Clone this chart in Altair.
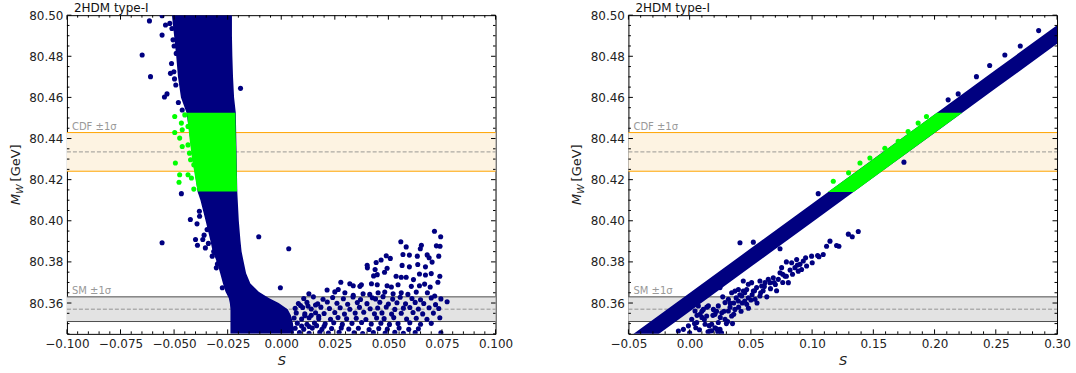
import altair as alt
import pandas as pd

# ---------------- data ----------------
Y_DOMAIN = [80.345, 80.50]
LEFT_X_DOMAIN = [-0.100, 0.100]
RIGHT_X_DOMAIN = [-0.05, 0.30]

y_major = [80.36, 80.38, 80.40, 80.42, 80.44, 80.46, 80.48, 80.50]
y_minor = [80.345, 80.350, 80.355, 80.365, 80.370, 80.375, 80.385, 80.390, 80.395,
           80.405, 80.410, 80.415, 80.425, 80.430, 80.435, 80.445, 80.450, 80.455,
           80.465, 80.470, 80.475, 80.485, 80.490, 80.495]
left_x_major = [-0.100, -0.075, -0.050, -0.025, 0.000, 0.025, 0.050, 0.075, 0.100]
left_x_minor = [-0.095, -0.090, -0.085, -0.080, -0.070, -0.065, -0.060, -0.055,
                -0.045, -0.040, -0.035, -0.030, -0.020, -0.015, -0.010, -0.005,
                0.005, 0.010, 0.015, 0.020, 0.030, 0.035, 0.040, 0.045,
                0.055, 0.060, 0.065, 0.070, 0.080, 0.085, 0.090, 0.095]
right_x_major = [-0.05, 0.00, 0.05, 0.10, 0.15, 0.20, 0.25, 0.30]
right_x_minor = [-0.04, -0.03, -0.02, -0.01, 0.01, 0.02, 0.03, 0.04, 0.06, 0.07, 0.08, 0.09,
                 0.11, 0.12, 0.13, 0.14, 0.16, 0.17, 0.18, 0.19, 0.21, 0.22, 0.23, 0.24,
                 0.26, 0.27, 0.28, 0.29]

cdf_center, cdf_sigma = 80.4335, 0.0094
sm_center, sm_sigma = 80.357, 0.006

# left panel: dense blue region (for each M_W, S from lo to hi)
left_blue_m = [80.345, 80.350, 80.354, 80.357, 80.360, 80.3625, 80.3655, 80.3695, 80.3745,
               80.380, 80.385, 80.390, 80.400, 80.410, 80.414, 80.4525, 80.460, 80.470,
               80.480, 80.490, 80.500]
left_blue_lo = [-0.0237, -0.0237, -0.0237, -0.0237, -0.0240, -0.0245, -0.0260, -0.0272, -0.0285,
                -0.0300, -0.0320, -0.0330, -0.0353, -0.0377, -0.0390, -0.0442, -0.0468, -0.0482,
                -0.0490, -0.0500, -0.0510]
left_blue_hi = [0.0060, 0.0055, 0.0045, 0.0030, -0.0012, -0.0058, -0.0105, -0.0144, -0.0164,
                -0.0175, -0.0185, -0.0190, -0.0198, -0.0203, -0.0205, -0.0212, -0.0220, -0.0225,
                -0.0228, -0.0230, -0.0230]
# left panel: dense green region
left_green_m = [80.4142, 80.420, 80.430, 80.440, 80.4525]
left_green_lo = [-0.0390, -0.0400, -0.0416, -0.0428, -0.0440]
left_green_hi = [-0.0206, -0.0207, -0.0209, -0.0212, -0.0214]

# left panel: isolated blue points
left_pts_s = [
    -0.0556, -0.0615, -0.0649, -0.0610, -0.0545, -0.0533, -0.0556, -0.0540, -0.0517, -0.0501,
    -0.0490, -0.0462, -0.0190, -0.0520, -0.0510, -0.0505, -0.0500, -0.0512, -0.0498, -0.0492,
    -0.0480,
    -0.0466, -0.0424, -0.0393, -0.0381, -0.0382, -0.0400, -0.0391, -0.0366, -0.0556, -0.0354,
    -0.0346, -0.0322, -0.0303, -0.0291, -0.0275, -0.0259, -0.0360, -0.0340, -0.0315, -0.0298,
    -0.0105, 0.0035, -0.0004,
    0.0715, 0.0744, 0.0558, 0.0583, 0.0654, 0.0649, 0.0724, 0.0741, 0.0490, 0.0509,
    0.0568, 0.0598, 0.0635, 0.0681, 0.0690, 0.0735, 0.0466, 0.0443, 0.0401, 0.0402,
    0.0438, 0.0564, 0.0598, 0.0637, 0.0704, 0.0673, 0.0494, 0.0482, 0.0448, 0.0431,
    0.0536, 0.0560, 0.0583, 0.0617, 0.0645, 0.0673, 0.0700, 0.0740, 0.0278, 0.0320,
    0.0336, 0.0374, 0.0367, 0.0421, 0.0448, 0.0494, 0.0514, 0.0545, 0.0607, 0.0645,
    0.0669, 0.0695, 0.0731, 0.0214, 0.0250, 0.0266, 0.0129, 0.0297, 0.0336, 0.0382,
    0.0413, 0.0452, 0.0483, 0.0522, 0.0560, 0.0591, 0.0630, 0.0682, 0.0716, 0.0774,
    0.0105, 0.0150, 0.0195, 0.0240, 0.0290, 0.0335, 0.0370, 0.0425, 0.0440, 0.0475,
    0.0520, 0.0555, 0.0610, 0.0650, 0.0700, 0.0745,
    0.0080, 0.0120, 0.0170, 0.0215, 0.0260, 0.0310, 0.0355, 0.0400, 0.0460, 0.0500,
    0.0540, 0.0580, 0.0625, 0.0665, 0.0720,
    0.0065, 0.0100, 0.0140, 0.0185, 0.0225, 0.0275, 0.0320, 0.0365, 0.0415, 0.0450,
    0.0490, 0.0530, 0.0570, 0.0600, 0.0640, 0.0690, 0.0735,
    0.0070, 0.0110, 0.0160, 0.0200, 0.0250, 0.0295, 0.0345, 0.0385, 0.0435, 0.0470,
    0.0515, 0.0560, 0.0615, 0.0660, 0.0710,
    0.0060, 0.0095, 0.0130, 0.0175, 0.0230, 0.0265, 0.0305, 0.0350, 0.0395, 0.0445,
    0.0480, 0.0525, 0.0585, 0.0630, 0.0680, 0.0740,
    0.0075, 0.0120, 0.0155, 0.0205, 0.0245, 0.0285, 0.0330, 0.0375, 0.0420, 0.0465,
    0.0505, 0.0545, 0.0600, 0.0650, 0.0700,
    0.0065, 0.0105, 0.0145, 0.0190, 0.0235, 0.0280, 0.0315, 0.0360, 0.0410, 0.0455,
    0.0495, 0.0550, 0.0595, 0.0640,
    0.0085, 0.0130, 0.0180, 0.0220, 0.0270, 0.0340, 0.0380, 0.0430, 0.0485, 0.0530,
    0.0570, 0.0625, 0.0745,
    0.0090, 0.0125, 0.0160, 0.0110, 0.0140, 0.0175, 0.0095, 0.0130, 0.0165, 0.0200]
left_pts_m = [
    80.4997, 80.4972, 80.4806, 80.4701, 80.4602, 80.4617, 80.4903, 80.4952, 80.4717, 80.4725,
    80.4814, 80.4539, 80.4644, 80.4960, 80.4935, 80.4880, 80.4850, 80.4765, 80.4690, 80.4660,
    80.4575,
    80.4132, 80.4006, 80.3985, 80.4022, 80.4046, 80.3909, 80.3881, 80.3909, 80.3893, 80.3868,
    80.3957, 80.3828, 80.3771, 80.3800, 80.3674, 80.3715, 80.3930, 80.3890, 80.3850, 80.3790,
    80.3922, 80.3864, 80.3674,
    80.3949, 80.3922, 80.3898, 80.3873, 80.3881, 80.3864, 80.3878, 80.3876, 80.3830, 80.3817,
    80.3836, 80.3833, 80.3828, 80.3834, 80.3820, 80.3828, 80.3809, 80.3797, 80.3784, 80.3771,
    80.3763, 80.3783, 80.3776, 80.3787, 80.3799, 80.3776, 80.3769, 80.3750, 80.3738, 80.3732,
    80.3730, 80.3725, 80.3725, 80.3714, 80.3741, 80.3736, 80.3743, 80.3730, 80.3701, 80.3694,
    80.3684, 80.3689, 80.3681, 80.3694, 80.3689, 80.3684, 80.3678, 80.3689, 80.3681, 80.3684,
    80.3692, 80.3678, 80.3701, 80.3663, 80.3654, 80.3666, 80.3645, 80.3650, 80.3637, 80.3645,
    80.3642, 80.3650, 80.3653, 80.3645, 80.3650, 80.3642, 80.3653, 80.3650, 80.3634, 80.3606,
    80.3622, 80.3630, 80.3618, 80.3627, 80.3621, 80.3629, 80.3617, 80.3626, 80.3620, 80.3631,
    80.3619, 80.3628, 80.3622, 80.3616, 80.3625, 80.3620,
    80.3598, 80.3603, 80.3596, 80.3605, 80.3599, 80.3594, 80.3602, 80.3597, 80.3604, 80.3595,
    80.3601, 80.3596, 80.3603, 80.3598, 80.3592,
    80.3574, 80.3578, 80.3571, 80.3580, 80.3573, 80.3577, 80.3570, 80.3579, 80.3572, 80.3576,
    80.3581, 80.3569, 80.3575, 80.3578, 80.3571, 80.3577, 80.3573,
    80.3552, 80.3547, 80.3553, 80.3549, 80.3554, 80.3546, 80.3551, 80.3555, 80.3548, 80.3552,
    80.3546, 80.3550, 80.3554, 80.3547, 80.3551,
    80.3527, 80.3522, 80.3528, 80.3524, 80.3521, 80.3529, 80.3523, 80.3526, 80.3520, 80.3527,
    80.3524, 80.3529, 80.3522, 80.3526, 80.3521, 80.3528,
    80.3502, 80.3497, 80.3503, 80.3499, 80.3504, 80.3496, 80.3501, 80.3505, 80.3498, 80.3502,
    80.3496, 80.3500, 80.3504, 80.3497, 80.3501,
    80.3477, 80.3473, 80.3478, 80.3472, 80.3476, 80.3479, 80.3474, 80.3477, 80.3471, 80.3476,
    80.3473, 80.3478, 80.3472, 80.3475,
    80.3456, 80.3453, 80.3457, 80.3454, 80.3458, 80.3455, 80.3452, 80.3456, 80.3454, 80.3457,
    80.3453, 80.3456, 80.3455,
    80.3588, 80.3585, 80.3590, 80.3538, 80.3540, 80.3536, 80.3488, 80.3486, 80.3490, 80.3487]

# left panel: isolated green points
left_green_pts_s = [-0.0497, -0.0450, -0.0466, -0.0462, -0.0497, -0.0474, -0.0435, -0.0462,
                    -0.0435, -0.0428, -0.0423, -0.0494, -0.0408, -0.0474, -0.0435, -0.0419,
                    -0.0477, -0.0408]
left_green_pts_m = [80.4507, 80.4515, 80.4475, 80.4443, 80.4429, 80.4402, 80.4459, 80.4361,
                    80.4369, 80.4329, 80.4297, 80.4281, 80.4272, 80.4224, 80.4224, 80.4208,
                    80.4187, 80.4154]

# right panel: dense blue band (for each S, M_W from lo to hi)
right_blue_s = [-0.05, 0.00, 0.05, 0.10, 0.15, 0.20, 0.25, 0.30]
right_blue_lo = [80.3342, 80.3559, 80.3776, 80.3993, 80.4210, 80.4427, 80.4644, 80.4861]
right_blue_hi = [80.3432, 80.3649, 80.3866, 80.4083, 80.4300, 80.4517, 80.4734, 80.4951]
# right panel: dense green part of the band
right_green_s = [0.1129, 0.1339, 0.2018, 0.2226]
right_green_lo = [80.4140, 80.4140, 80.4435, 80.4525]
right_green_hi = [80.4140, 80.4230, 80.4525, 80.4525]

# right panel: isolated blue points
right_pts_s = [
    0.2574, 0.2342, 0.2111, 0.2193, 0.0411, 0.0520, 0.1050,
    0.1377, 0.1296, 0.1328, 0.1146, 0.1118, 0.1200, 0.1219, 0.1091, 0.1045, 0.1056,
    0.0996, 0.0947, 0.0928, 0.0901, 0.1001, 0.0887, 0.0738, 0.0874, 0.0833, 0.0860,
    0.0914, 0.0955, 0.0751, 0.0738, 0.0778, 0.0806, 0.0724, 0.0683, 0.0642, 0.0656,
    0.0615, 0.0574, 0.0588, 0.0547, 0.0506, 0.0479, 0.0520, 0.0466, 0.0438, 0.0398,
    0.0370, 0.0343, 0.0425, 0.0479, 0.0534, 0.0574, 0.0466, 0.0398, 0.0316, 0.0289,
    0.0248, 0.0234, 0.0194, 0.0153, 0.0112, 0.0071, 0.0044, 0.0085, 0.0139, 0.0207,
    0.0262, 0.0316, 0.0370, 0.0343, 0.0289, 0.0234, 0.0180, 0.0126, 0.0058, 0.0017,
    -0.0010, -0.0051, 0.0207, 0.0248, 0.0166, -0.0092, 0.0438, 0.0410, 0.0450, 0.0510,
    0.0360, 0.0270, 0.0100, 0.0050, 0.0150, 0.0300, 0.0330, 0.0220, 0.0600, 0.0700,
    0.0760, 0.0820, 0.0790,
    -0.0300, -0.0250, -0.0200, -0.0150, 0.1750, 0.2450, 0.2700, 0.2850, 0.1600,
    0.0000, 0.0040, 0.0080, 0.0120, 0.0160, 0.0190, 0.0220, 0.0250, 0.0280, 0.0310,
    0.0330, 0.0360, 0.0380, 0.0400, 0.0430, 0.0450, 0.0480, 0.0500, 0.0530, 0.0550,
    0.0580, 0.0610, 0.0630, 0.0660, 0.0690, 0.0710, 0.0760, 0.0790, 0.0840, 0.0880,
    0.0100, 0.0140, 0.0060, 0.0260, 0.0350, 0.0180, 0.0230, 0.0420]
right_pts_m = [
    80.4806, 80.4701, 80.4588, 80.4617, 80.3893, 80.3896, 80.4132,
    80.3948, 80.3935, 80.3922, 80.3901, 80.3876, 80.3880, 80.3876, 80.3836, 80.3831, 80.3825,
    80.3828, 80.3820, 80.3804, 80.3788, 80.3796, 80.3755, 80.3864, 80.3812, 80.3796, 80.3772,
    80.3763, 80.3780, 80.3772, 80.3747, 80.3731, 80.3699, 80.3715, 80.3723, 80.3715, 80.3699,
    80.3699, 80.3707, 80.3683, 80.3675, 80.3699, 80.3691, 80.3658, 80.3666, 80.3658, 80.3666,
    80.3658, 80.3650, 80.3634, 80.3626, 80.3618, 80.3634, 80.3594, 80.3610, 80.3618, 80.3602,
    80.3675, 80.3586, 80.3569, 80.3586, 80.3569, 80.3586, 80.3561, 80.3545, 80.3537, 80.3545,
    80.3553, 80.3561, 80.3569, 80.3537, 80.3521, 80.3505, 80.3497, 80.3497, 80.3505, 80.3521,
    80.3489, 80.3472, 80.3480, 80.3472, 80.3464, 80.3464, 80.3707, 80.3640, 80.3610, 80.3640,
    80.3600, 80.3630, 80.3530, 80.3480, 80.3460, 80.3500, 80.3580, 80.3560, 80.3660, 80.3690,
    80.3740, 80.3760, 80.3800,
    80.3480, 80.3505, 80.3525, 80.3550, 80.4285, 80.4755, 80.4850, 80.4925, 80.4280,
    80.3455, 80.3500, 80.3470, 80.3520, 80.3490, 80.3540, 80.3475, 80.3530, 80.3560, 80.3510,
    80.3600, 80.3545, 80.3625, 80.3580, 80.3600, 80.3650, 80.3575, 80.3615, 80.3660, 80.3600,
    80.3650, 80.3680, 80.3630, 80.3670, 80.3700, 80.3660, 80.3700, 80.3730, 80.3740, 80.3785,
    80.3560, 80.3580, 80.3540, 80.3455, 80.3500, 80.3465, 80.3460, 80.3560]

# right panel: isolated green points
right_green_pts_s = [0.1173, 0.1391, 0.1298, 0.1472, 0.1594, 0.1703, 0.1784, 0.1866, 0.1934]
right_green_pts_m = [80.4192, 80.4281, 80.4233, 80.4305, 80.4353, 80.4386, 80.4434, 80.4475, 80.4507]

# ---------------- chart ----------------
W, H = 429, 319
BLUE = "#000080"
GREEN = "#00ff00"
FONT = "DejaVu Sans"
MAJ, MIN = 4.5, 2.5
DOT = 26


def panel(xdom, xmajor, xminor, xfmt, area_blue, area_green, pts, gpts, horizontal):
    xs = alt.Scale(domain=xdom, nice=False, zero=False)
    ys = alt.Scale(domain=Y_DOMAIN, nice=False, zero=False)
    xaxis = alt.Axis(values=xmajor, format=xfmt, title="S", ticks=False, domain=False,
                     grid=False, labelFlush=False, labelOverlap=False, labelPadding=5,
                     labelFont=FONT, labelFontSize=12, labelColor="#222222",
                     titleFont=FONT, titleFontStyle="italic", titleFontWeight="normal",
                     titleFontSize=13, titleColor="#222222",
                     titleY=31, titleBaseline="alphabetic")
    yaxis = alt.Axis(values=y_major, format=".2f", title=None, ticks=False, domain=False,
                     grid=False, labelFlush=False, labelOverlap=False, labelPadding=4,
                     labelFont=FONT, labelFontSize=12, labelColor="#222222")

    def X(f):
        return alt.X(f, type="quantitative", scale=xs, axis=xaxis)

    def Y(f):
        return alt.Y(f, type="quantitative", scale=ys, axis=yaxis)

    bands = pd.DataFrame({
        "lo": [cdf_center - cdf_sigma, sm_center - sm_sigma],
        "hi": [cdf_center + cdf_sigma, sm_center + sm_sigma],
        "c": [cdf_center, sm_center],
        "fill": ["#fdf3e2", "#e3e3e3"],
        "edge": ["#ffa500", "#4d4d4d"],
        "lab": ["CDF \u00b11\u03c3", "SM \u00b11\u03c3"],
    })
    layers = []
    layers.append(alt.Chart(bands).mark_rect().encode(
        y=Y("lo"), y2="hi", x=alt.value(0), x2=alt.value(W),
        color=alt.Color("fill:N", scale=None)))
    for f in ["lo", "hi"]:
        layers.append(alt.Chart(bands).mark_rule(strokeWidth=1).encode(
            y=Y(f), x=alt.value(0), x2=alt.value(W),
            color=alt.Color("edge:N", scale=None)))
    layers.append(alt.Chart(bands).mark_rule(strokeWidth=0.8, strokeDash=[4, 2],
                                             color="#808080").encode(
        y=Y("c"), x=alt.value(0), x2=alt.value(W)))
    layers.append(alt.Chart(bands).mark_text(align="left", baseline="alphabetic", dy=-3,
                                             font=FONT, fontSize=10, color="#999999").encode(
        y=Y("hi"), x=alt.value(5), text="lab:N"))

    if horizontal:
        bdf = pd.DataFrame({"m": area_blue[0], "lo": area_blue[1], "hi": area_blue[2]})
        gdf = pd.DataFrame({"m": area_green[0], "lo": area_green[1], "hi": area_green[2]})
        layers.append(alt.Chart(bdf).mark_area(orient="horizontal", color=BLUE, clip=True).encode(
            y=Y("m"), x=X("lo"), x2="hi"))
    else:
        bdf = pd.DataFrame({"s": area_blue[0], "lo": area_blue[1], "hi": area_blue[2]})
        gdf = pd.DataFrame({"s": area_green[0], "lo": area_green[1], "hi": area_green[2]})
        layers.append(alt.Chart(bdf).mark_area(orient="vertical", color=BLUE, clip=True).encode(
            x=X("s"), y=Y("lo"), y2="hi"))

    pdf = pd.DataFrame({"s": pts[0], "m": pts[1]})
    layers.append(alt.Chart(pdf).mark_circle(size=DOT, color=BLUE, opacity=1, clip=True).encode(
        x=X("s"), y=Y("m")))

    if horizontal:
        layers.append(alt.Chart(gdf).mark_area(orient="horizontal", color=GREEN, clip=True).encode(
            y=Y("m"), x=X("lo"), x2="hi"))
    else:
        layers.append(alt.Chart(gdf).mark_area(orient="vertical", color=GREEN, clip=True).encode(
            x=X("s"), y=Y("lo"), y2="hi"))
    gpdf = pd.DataFrame({"s": gpts[0], "m": gpts[1]})
    layers.append(alt.Chart(gpdf).mark_circle(size=DOT, color=GREEN, opacity=1, clip=True).encode(
        x=X("s"), y=Y("m")))

    # inward ticks on all four sides
    for vals, ln in [(xmajor, MAJ), (xminor, MIN)]:
        tdf = pd.DataFrame({"v": vals})
        layers.append(alt.Chart(tdf).mark_rule(color="black", strokeWidth=1).encode(
            x=X("v"), y=alt.value(H), y2=alt.value(H - ln)))
        layers.append(alt.Chart(tdf).mark_rule(color="black", strokeWidth=1).encode(
            x=X("v"), y=alt.value(0), y2=alt.value(ln)))
    for vals, ln in [(y_major, MAJ), (y_minor, MIN)]:
        tdf = pd.DataFrame({"v": vals})
        layers.append(alt.Chart(tdf).mark_rule(color="black", strokeWidth=1).encode(
            y=Y("v"), x=alt.value(0), x2=alt.value(ln)))
        layers.append(alt.Chart(tdf).mark_rule(color="black", strokeWidth=1).encode(
            y=Y("v"), x=alt.value(W), x2=alt.value(W - ln)))

    # panel title
    tdf = pd.DataFrame({"t": ["2HDM type-I"]})
    layers.append(alt.Chart(tdf).mark_text(align="left", baseline="alphabetic", font=FONT,
                                           fontSize=12, color="#111111").encode(
        x=alt.value(7), y=alt.value(-3.3), text="t:N"))

    # y axis title  M_W [GeV]
    ydf = pd.DataFrame({"t": ["M"]})
    layers.append(alt.Chart(ydf).mark_text(align="left", baseline="alphabetic", angle=270,
                                           font=FONT, fontSize=13, fontStyle="italic",
                                           color="#222222").encode(
        x=alt.value(-47), y=alt.value(190), text="t:N"))
    ydf2 = pd.DataFrame({"t": ["W"]})
    layers.append(alt.Chart(ydf2).mark_text(align="left", baseline="alphabetic", angle=270,
                                            font=FONT, fontSize=9.5, fontStyle="italic",
                                            color="#222222").encode(
        x=alt.value(-44), y=alt.value(178.8), text="t:N"))
    ydf3 = pd.DataFrame({"t": ["[GeV]"]})
    layers.append(alt.Chart(ydf3).mark_text(align="left", baseline="alphabetic", angle=270,
                                            font=FONT, fontSize=13, color="#222222").encode(
        x=alt.value(-47), y=alt.value(166.4), text="t:N"))

    return alt.layer(*layers).properties(width=W, height=H)


left = panel(LEFT_X_DOMAIN, left_x_major, left_x_minor, ".3f",
             (left_blue_m, left_blue_lo, left_blue_hi),
             (left_green_m, left_green_lo, left_green_hi),
             (left_pts_s, left_pts_m), (left_green_pts_s, left_green_pts_m), True)
right = panel(RIGHT_X_DOMAIN, right_x_major, right_x_minor, ".2f",
              (right_blue_s, right_blue_lo, right_blue_hi),
              (right_green_s, right_green_lo, right_green_hi),
              (right_pts_s, right_pts_m), (right_green_pts_s, right_green_pts_m), False)

chart = alt.hconcat(left, right, spacing=133, bounds="flush").properties(
    padding={"left": 9, "top": 1, "right": 5, "bottom": 0},
    background="white",
).configure_view(stroke="black", strokeWidth=1)

chart.save("out.html", embed_options={"renderer": "svg", "actions": False})
